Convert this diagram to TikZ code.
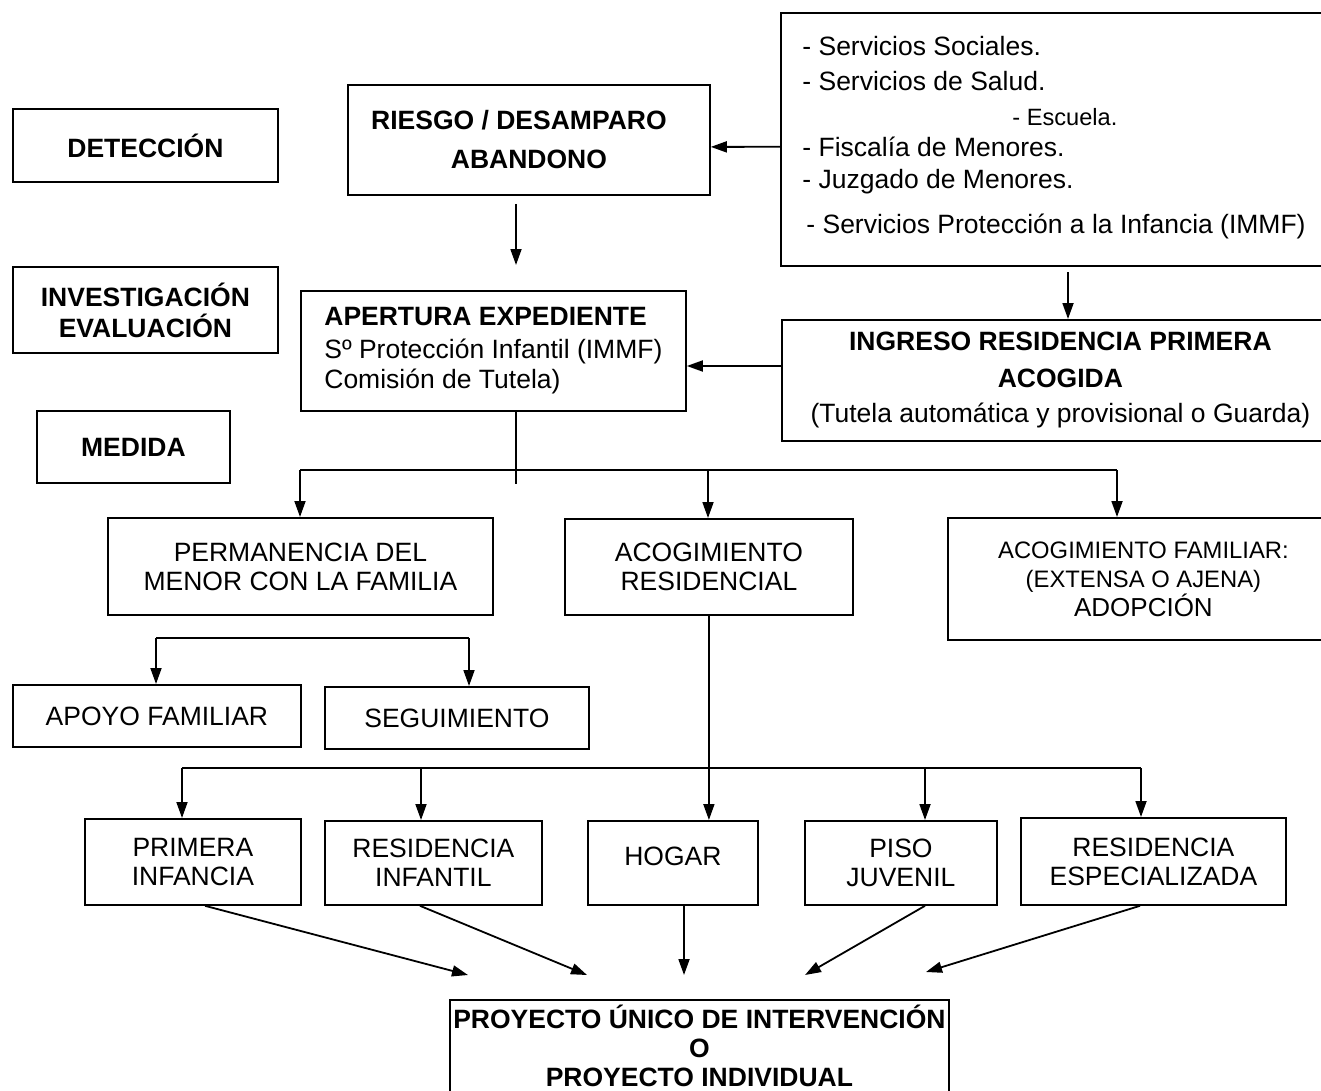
\documentclass[tikz,border=0pt]{standalone}
\usepackage{fontspec}
\setmainfont{Liberation Sans}
\usetikzlibrary{arrows.meta}

\tikzset{
  caja/.style={draw, line width=0.9pt, inner sep=0pt, anchor=north west, align=center,
    font=\fontsize{13.25}{14.5}\selectfont},
  negrita/.style={font=\fontsize{13.25}{14.5}\selectfont\bfseries},
  renglon/.style={anchor=base west, inner sep=0pt, font=\fontsize{13.25}{14.5}\selectfont},
  linea/.style={line width=0.9pt},
  flecha/.style={line width=0.9pt, -{Triangle[length=8pt,width=5.5pt]}},
}

\begin{document}
\begin{tikzpicture}[x=0.5pt,y=-0.5pt]
\useasboundingbox (0,0) rectangle (1321,1091);
\fill[white] (0,0) rectangle (1321,1091);

%etapas
\node[caja, negrita, minimum width=132.5pt, minimum height=36.5pt] (det) at (12,108) {DETECCIÓN};
\node[caja, negrita, minimum width=132.5pt, minimum height=43pt] (inv) at (12,266) {INVESTIGACIÓN\\[1pt]EVALUACIÓN};
\node[caja, negrita, minimum width=96.5pt, minimum height=36pt] (med) at (36,410) {MEDIDA};

%deteccion
\node[caja, negrita, minimum width=181pt, minimum height=55pt] (riesgo) at (347,84) {RIESGO / DESAMPARO\hspace*{10pt}\\[5pt]ABANDONO};
\node[caja, minimum width=279pt, minimum height=126.5pt] (serv) at (780,12) {};
\node[renglon] (s1) at (802,56) {- Servicios Sociales.};
\node[renglon] (s2) at (802,91) {- Servicios de Salud.};
\node[renglon, font=\fontsize{11.8}{14}\selectfont] (s3) at (1012,126) {- Escuela.};
\node[renglon] (s4) at (802,157) {- Fiscalía de Menores.};
\node[renglon] (s5) at (802,189) {- Juzgado de Menores.};
\node[renglon] (s6) at (806,234) {- Servicios Protección a la Infancia (IMMF)};

%investigacion
\node[caja, align=left, minimum width=192.5pt, minimum height=60pt] (apert) at (300,290) {\textbf{APERTURA EXPEDIENTE}\\[2pt]Sº Protección Infantil (IMMF)\\[0.5pt]Comisión de Tutela)};
\node[caja, minimum width=278.5pt, minimum height=60.5pt] (ingreso) at (781,319) {\textbf{INGRESO RESIDENCIA PRIMERA}\\[4pt]\textbf{ACOGIDA}\\[3pt](Tutela automática y provisional o Guarda)};

%medida
\node[caja, minimum width=192.5pt, minimum height=48.5pt] (perm) at (107,517) {PERMANENCIA DEL\\MENOR CON LA FAMILIA};
\node[caja, minimum width=144pt, minimum height=48pt] (acres) at (564,518) {ACOGIMIENTO\\RESIDENCIAL};
\node[caja, minimum width=195.5pt, minimum height=61pt] (acfam) at (947,517) {\fontsize{11.9}{14.5}\selectfont ACOGIMIENTO FAMILIAR:\\\fontsize{11.9}{14.5}\selectfont(EXTENSA O AJENA)\\\fontsize{13}{14.5}\selectfont ADOPCIÓN};
\node[caja, minimum width=144pt, minimum height=31pt] (apoyo) at (12,684) {APOYO FAMILIAR};
\node[caja, minimum width=132pt, minimum height=31pt] (seg) at (324,686) {SEGUIMIENTO};

%recursos
\node[caja, minimum width=108pt, minimum height=43pt] (prim) at (84,818) {PRIMERA\\INFANCIA};
\node[caja, minimum width=108.5pt, minimum height=42pt] (resinf) at (324,820) {RESIDENCIA\\INFANTIL};
\node[caja, minimum width=85pt, minimum height=42pt] (hogar) at (587,820) {HOGAR\rule[-7pt]{0pt}{7pt}};
\node[caja, minimum width=96pt, minimum height=42pt] (piso) at (804,820) {PISO\\JUVENIL};
\node[caja, minimum width=132.5pt, minimum height=43.5pt] (resesp) at (1020,817) {RESIDENCIA\\ESPECIALIZADA};
\node[caja, font=\fontsize{13.25}{14.5}\selectfont\bfseries, minimum width=249.5pt, minimum height=46pt] (proy) at (449,999) {PROYECTO ÚNICO DE INTERVENCIÓN\\O\\PROYECTO INDIVIDUAL};

%flechas deteccion
\draw[flecha] ([yshift=-3.7pt]serv.west) -- ([yshift=-3.5pt]riesgo.east);
\coordinate (r1) at (516,204); \coordinate (r2) at (516,265);
\draw[flecha] (r1) -- (r2);
\coordinate (s0) at (1068,272);
\draw[flecha] (s0) -- (s0 |- ingreso.north);
\draw[flecha] (ingreso.west |- 0,366) -- (apert.east |- 0,366);

%flechas medida
\coordinate (b1) at (300,470); \coordinate (b2) at (708,470); \coordinate (b3) at (1117,470);
\draw[linea] (apert.south -| 516,0) -- (516,484);
\draw[linea] (b1) -- (b3);
\draw[flecha] (b1) -- (b1 |- perm.north);
\draw[flecha] (b2) -- (b2 |- acres.north);
\draw[flecha] (b3) -- (b3 |- acfam.north);

%familia
\coordinate (f1) at (156,638); \coordinate (f2) at (469,638);
\draw[linea] (f1) -- (f2);
\draw[flecha] (f1) -- (f1 |- apoyo.north);
\draw[flecha] (f2) -- (f2 |- seg.north);

%residencial
\coordinate (h1) at (182,768); \coordinate (h2) at (421,768);
\coordinate (h4) at (925,768); \coordinate (h5) at (1141,768);
\draw[linea] (h1) -- (h5);
\draw[flecha] (acres.south) -- (acres.south |- hogar.north);
\draw[flecha] (h1) -- (h1 |- prim.north);
\draw[flecha] (h2) -- (h2 |- resinf.north);
\draw[flecha] (h4) -- (h4 |- piso.north);
\draw[flecha] (h5) -- (h5 |- resesp.north);

%proyecto
\coordinate (t1) at (468,975); \coordinate (t2) at (587,975); \coordinate (t3) at (684,975);
\coordinate (t4) at (805,975); \coordinate (t5) at (926,972);
\draw[flecha] (prim.south -| 205,0) -- (t1);
\draw[flecha] (resinf.south -| 420,0) -- (t2);
\draw[flecha] (hogar.south -| 684,0) -- (t3);
\draw[flecha] (piso.south -| 925,0) -- (t4);
\draw[flecha] (resesp.south -| 1140,0) -- (t5);
\end{tikzpicture}
\end{document}
